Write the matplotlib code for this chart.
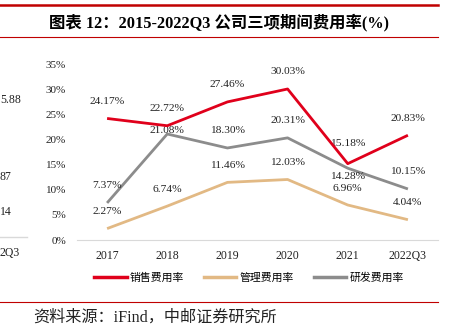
import matplotlib
matplotlib.use('Agg')
import matplotlib.pyplot as plt
from matplotlib.lines import Line2D

# data
years = ['2017', '2018', '2019', '2020', '2021', '2022Q3']
sales = [24.17, 22.72, 27.46, 30.03, 15.18, 20.83]
admin = [2.27, 6.74, 11.46, 12.03, 6.96, 4.04]
rnd = [7.37, 21.08, 18.30, 20.31, 14.28, 10.15]
names = ['销售费用率', '管理费用率', '研发费用率']
yticks = [0, 5, 10, 15, 20, 25, 30, 35]

RED = '#e0001b'
TAN = '#e2b984'
GRAY = '#8c8c8c'
SERIF_CJK = ['Liberation Serif', 'Noto Sans CJK SC']

fig = plt.figure(figsize=(4.53, 3.25), dpi=100)
ax = fig.add_axes([77 / 453, 85 / 325, 361 / 453, 176 / 325])

x = range(len(years))
ax.plot(x, admin, color=TAN, lw=2.0, solid_capstyle='butt', zorder=2)
ax.plot(x, rnd, color=GRAY, lw=2.0, solid_capstyle='butt', zorder=3)
ax.plot(x, sales, color=RED, lw=2.0, solid_capstyle='butt', zorder=4)

# label offsets in pixels (most sit above the point)
def put_labels(vals, offs):
    for i, v in enumerate(vals):
        ax.annotate(f'{v:.2f}%', (i, v), xytext=(0, offs[i]),
                    textcoords='offset pixels', ha='center', va='center',
                    fontsize=8.2, family='Liberation Serif', color='#222222')

put_labels(sales, [17, 17, 17, 17, 20, 17])
put_labels(admin, [17, 17, 17, 17, 17, 17])
put_labels(rnd, [17, 3, 17, 17, -8, 17])

ax.set_xlim(-0.5, len(years) - 0.5)
ax.set_ylim(0, 35)
ax.set_yticks(yticks)
ax.set_yticklabels([f'{t}%' for t in yticks], family='Liberation Serif', fontsize=8)
ax.set_xticks(list(x))
ax.set_xticklabels(years, family='Liberation Serif', fontsize=8.5)
ax.tick_params(length=0, pad=7, colors='#222222')
ax.tick_params(axis='y', pad=8)
for s in ['top', 'right', 'left']:
    ax.spines[s].set_visible(False)
ax.spines['bottom'].set_color('#d9d9d9')

handles = [Line2D([], [], color=c, lw=2.5) for c in [RED, TAN, GRAY]]
fig.legend(handles, names, loc='center', bbox_to_anchor=(249 / 453, 1 - 278 / 325),
           ncol=3, frameon=False, handlelength=3.0, handletextpad=0.3,
           columnspacing=1.8, prop={'family': 'Noto Sans CJK SC', 'size': 7.8})

# page frame: red rules, title, source
fig.add_artist(Line2D([0, 438 / 453], [1 - 5 / 325] * 2, color='#c00000', lw=1.8))
fig.add_artist(Line2D([0, 438 / 453], [1 - 37 / 325] * 2, color='#c00000', lw=0.8))
fig.add_artist(Line2D([0, 438 / 453], [1 - 302 / 325] * 2, color='#c00000', lw=0.8))
fig.text(219 / 453, 1 - 22 / 325, '图表 12：2015-2022Q3 公司三项期间费用率(%)',
         ha='center', va='center', fontsize=11.8, fontweight='bold', family=SERIF_CJK)
fig.text(33 / 453, 1 - 318 / 325, '资料来源：iFind，中邮证券研究所',
         ha='left', va='center', fontsize=11.6, family=SERIF_CJK, color='#222222')

# visible pieces of the neighbouring chart on the left
for txt, y in [('5.88', 100), ('87', 177), ('14', 212), ('2Q3', 253)]:
    fig.text(0, 1 - y / 325, txt, ha='left', va='center',
             fontsize=8.5, family='Liberation Serif', color='#222222')
fig.add_artist(Line2D([0, 27 / 453], [1 - 237 / 325] * 2, color='#d9d9d9', lw=1))

fig.savefig('out.png', dpi=100)
